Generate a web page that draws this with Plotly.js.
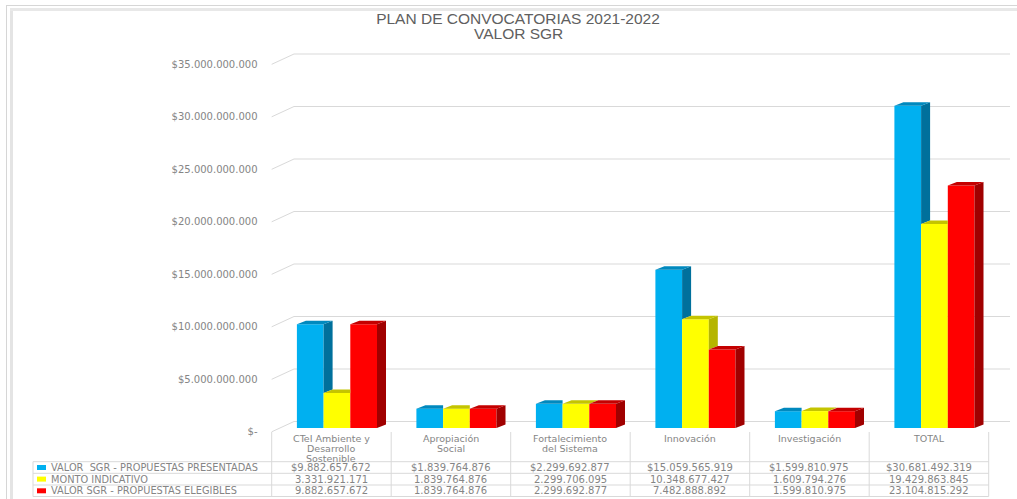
<!DOCTYPE html>
<html><head><meta charset="utf-8">
<script src="https://cdn.plot.ly/plotly-3.0.1.min.js"></script>
<style>html,body{margin:0;padding:0;background:#fff;} #chart{width:1017px;height:499px;}</style>
</head><body><div id="chart"></div>
<script>
// ---------- DATA ----------
const categories = ["CTeI Ambiente y<br>Desarrollo<br>Sostenible", "Apropiación<br>Social", "Fortalecimiento<br>del Sistema", "Innovación", "Investigación", "TOTAL"];
const seriesNames = ["VALOR\u00A0 SGR - PROPUESTAS PRESENTADAS", "MONTO INDICATIVO", "VALOR SGR - PROPUESTAS ELEGIBLES"];
const presentadas = [9882657672, 1839764876, 2299692877, 15059565919, 1599810975, 30681492319];
const monto = [3331921171, 1839764876, 2299706095, 10348677427, 1609794276, 19429863845];
const elegibles = [9882657672, 1839764876, 2299692877, 7482888892, 1599810975, 23104815292];
const yTickVals = [0, 5e9, 10e9, 15e9, 20e9, 25e9, 30e9, 35e9];
const yTickText = ["$-", "$5.000.000.000", "$10.000.000.000", "$15.000.000.000", "$20.000.000.000", "$25.000.000.000", "$30.000.000.000", "$35.000.000.000"];
const titleLine1 = "PLAN DE CONVOCATORIAS 2021-2022";
const titleLine2 = "VALOR SGR";

// ---------- STYLE / GEOMETRY ----------
const W = 1017, H = 499, ML = 10, MR = 5, MT = 50, MB = 2;
const PX0 = 271.7, UX = 119.5;          // x=-0.5 at PX0, px per category
const PY0 = 428, K = 10.5;              // bar plane zero, px per 1e9
const FRONT0 = 431.8, BACK0 = 421.5;    // front / back plane zero (px)
const pxToX = px => (px - PX0) / UX - 0.5;
const pyToY = py => (PY0 - py) / K * 1e9;
const pxToPaper = px => (px - ML) / (W - ML - MR);
const pyToPaper = py => (H - MB - py) / (H - MT - MB);
const FONT = "DejaVu Sans";
const TXT = "#858585";
const GRID = "#d9d9d9";
const frontColors = ["#00B0F0", "#FFFF00", "#FF0000"];
const sideColors = ["#00709C", "#B5B500", "#A00000"];
const topColors = ["#0089BE", "#C4C400", "#C40000"];

const series = [presentadas, monto, elegibles];
const idx = categories.map((c, i) => i);
const w = 26.7 / UX, gx = 5.5 / UX, dx = 9 / UX, dy = 3.5 / K * 1e9;

const traces = [];
series.forEach((vals, s) => {
  traces.push({
    type: "bar", x: idx, y: vals, width: w, offset: gx - 1.5 * w + s * w,
    marker: { color: frontColors[s], line: { width: 0 } },
    name: seriesNames[s], hoverinfo: "skip", showlegend: false
  });
});
series.forEach((vals, s) => {
  const sx = [], sy = [], tx = [], ty = [];
  vals.forEach((v, k) => {
    const vn = s < 2 ? series[s + 1][k] : 0;
    const xL = k + gx - 1.5 * w + s * w, xR = xL + w;
    if (v > vn) {
      sx.push(xR, xR, xR + dx, xR + dx, xR, null);
      sy.push(vn, v, v + dy, vn + dy, vn, null);
    }
    if (s < 2 && vn >= v) {
      tx.push(xL, xR, xR, xL + dx, xL, null);
    } else {
      tx.push(xL, xR, xR + dx, xL + dx, xL, null);
    }
    ty.push(v, v, v + dy, v + dy, v, null);
  });
  traces.push({ type: "scatter", mode: "lines", x: sx, y: sy, fill: "toself", fillcolor: sideColors[s],
    line: { width: 0, color: sideColors[s] }, hoverinfo: "skip", showlegend: false });
  traces.push({ type: "scatter", mode: "lines", x: tx, y: ty, fill: "toself", fillcolor: topColors[s],
    line: { width: 0, color: topColors[s] }, hoverinfo: "skip", showlegend: false });
});

// ---------- SHAPES ----------
const shapes = [];
const backL = pxToX(294), backR = pxToX(1010), frontL = pxToX(PX0);
yTickVals.forEach(v => {
  const yb = pyToY(BACK0 - v * K / 1e9), yf = pyToY(FRONT0 - v * K / 1e9);
  shapes.push({ type: "line", xref: "x", yref: "y", x0: backL, x1: backR, y0: yb, y1: yb, line: { color: GRID, width: 1 }, layer: "below" });
  shapes.push({ type: "line", xref: "x", yref: "y", x0: frontL, x1: backL, y0: yf, y1: yb, line: { color: GRID, width: 1 }, layer: "below" });
});
// table lines
const rowLines = [461.7, 473.3, 485, 496.5];
for (let k = 0; k <= categories.length; k++) {
  shapes.push({ type: "line", xref: "x", yref: "y", x0: k - 0.5, x1: k - 0.5, y0: pyToY(432), y1: pyToY(496.5), line: { color: GRID, width: 1 } });
}
rowLines.forEach(py => {
  shapes.push({ type: "line", xref: "x", yref: "y", x0: pxToX(33), x1: categories.length - 0.5, y0: pyToY(py), y1: pyToY(py), line: { color: GRID, width: 1 } });
});
shapes.push({ type: "line", xref: "x", yref: "y", x0: pxToX(33), x1: pxToX(33), y0: pyToY(461.7), y1: pyToY(496.5), line: { color: GRID, width: 1 } });
const rowCenters = [467.5, 479.1, 490.8];
rowCenters.forEach((py, s) => {
  shapes.push({ type: "rect", xref: "x", yref: "y", x0: pxToX(37), x1: pxToX(46), y0: pyToY(py - 2.5), y1: pyToY(py + 2.5), fillcolor: frontColors[s], line: { width: 0 } });
});
// frame
shapes.push({ type: "line", xref: "paper", yref: "paper", x0: pxToPaper(6.5), x1: pxToPaper(6.5), y0: pyToPaper(5.5), y1: pyToPaper(510), line: { color: "#d6d6d6", width: 1 } });
shapes.push({ type: "line", xref: "paper", yref: "paper", x0: pxToPaper(6), x1: pxToPaper(1030), y0: pyToPaper(5.5), y1: pyToPaper(5.5), line: { color: "#d6d6d6", width: 1 } });
shapes.push({ type: "line", xref: "paper", yref: "paper", x0: pxToPaper(11.5), x1: pxToPaper(11.5), y0: pyToPaper(9.5), y1: pyToPaper(510), line: { color: "#e4e4e4", width: 3 } });
shapes.push({ type: "line", xref: "paper", yref: "paper", x0: pxToPaper(10), x1: pxToPaper(1030), y0: pyToPaper(9.5), y1: pyToPaper(9.5), line: { color: "#e8e8e8", width: 3 } });

// ---------- ANNOTATIONS ----------
const annotations = [];
annotations.push({ xref: "paper", yref: "paper", x: pxToPaper(518), y: pyToPaper(33.5), text: titleLine2, showarrow: false,
  xanchor: "center", yanchor: "middle", font: { family: "Liberation Sans", size: 15.5, color: "#606060" } });
categories.forEach((c, k) => {
  c.split("<br>").forEach((line, j) => {
    annotations.push({ xref: "x", yref: "y", x: k, y: pyToY(438.5 + 10 * j), text: line, showarrow: false,
      xanchor: "center", yanchor: "middle", font: { family: FONT, size: 9.5, color: TXT } });
  });
});
const fmt = n => String(n).replace(/\B(?=(\d{3})+(?!\d))/g, ".");
series.forEach((vals, s) => {
  annotations.push({ xref: "x", yref: "y", x: pxToX(49), y: pyToY(rowCenters[s]), text: seriesNames[s], showarrow: false,
    xanchor: "left", yanchor: "middle", font: { family: FONT, size: 9.8, color: TXT } });
  vals.forEach((v, k) => {
    annotations.push({ xref: "x", yref: "y", x: k, y: pyToY(rowCenters[s]), text: (s === 0 ? "$" : "") + fmt(v), showarrow: false,
      xanchor: "center", yanchor: "middle", font: { family: FONT, size: 10, color: TXT } });
  });
});

const layout = {
  width: W, height: H,
  margin: { l: ML, r: MR, t: MT, b: MB, pad: 0 },
  paper_bgcolor: "#ffffff", plot_bgcolor: "rgba(0,0,0,0)",
  title: { text: titleLine1, x: 518 / W, xanchor: "center", xref: "container", y: 1 - 18.5 / H, yref: "container", yanchor: "middle",
    font: { family: "Liberation Sans", size: 15.5, color: "#606060" } },
  showlegend: false,
  barmode: "overlay",
  xaxis: { range: [pxToX(ML), pxToX(W - MR)], showgrid: false, zeroline: false, showticklabels: false, showline: false, ticks: "", fixedrange: true },
  yaxis: { range: [pyToY(H - MB), pyToY(MT)], showgrid: false, zeroline: false, showticklabels: false, showline: false, ticks: "", fixedrange: true },
  yaxis2: { overlaying: "y", anchor: "free", position: pxToPaper(257.5), side: "left",
    range: [(FRONT0 - (H - MB)) / K * 1e9, (FRONT0 - MT) / K * 1e9],
    tickmode: "array", tickvals: yTickVals, ticktext: yTickText, showgrid: false, zeroline: false, showline: false, ticks: "",
    tickfont: { family: FONT, size: 10, color: TXT }, fixedrange: true },
  shapes: shapes, annotations: annotations
};
// empty trace that activates the yaxis2 labels
traces.push({ type: "scatter", x: [null], y: [null], yaxis: "y2", hoverinfo: "skip", showlegend: false });
Plotly.newPlot("chart", traces, layout, { staticPlot: true, displayModeBar: false });
</script></body></html>
